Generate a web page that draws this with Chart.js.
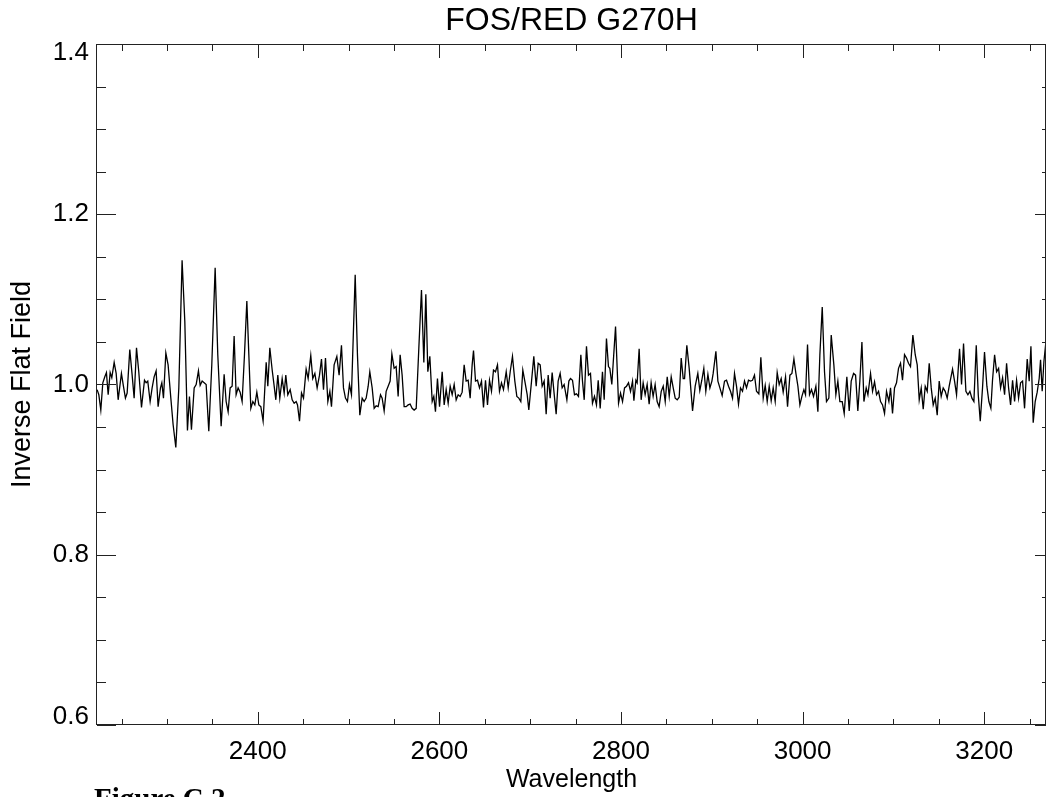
<!DOCTYPE html>
<html>
<head>
<meta charset="utf-8">
<title>FOS/RED G270H</title>
<script src="https://cdn.jsdelivr.net/npm/chart.js@4/dist/chart.umd.min.js"></script>
<style>
  html, body { margin: 0; padding: 0; background: #fff; }
  #wrap { width: 1047px; height: 797px; position: relative; }
</style>
</head>
<body>
<div id="wrap"><canvas id="flatChart"></canvas></div>
<script>
// spectrum (wavelength, inverse flat field)
const wavelength = [
  2223.1, 2225.0, 2227.2, 2229.4, 2231.6, 2233.4, 2235.3, 2237.5, 2239.3, 2241.9,
  2244.1, 2246.3, 2249.9, 2252.1, 2254.3, 2256.2, 2259.1, 2261.7, 2263.9, 2266.5,
  2269.0, 2272.0, 2275.3, 2277.1, 2278.9, 2281.5, 2283.7, 2285.9, 2288.1, 2290.3,
  2292.9, 2294.4, 2296.2, 2298.8, 2301.3, 2304.3, 2306.8, 2309.8, 2313.1, 2316.7,
  2319.7, 2322.6, 2324.8, 2327.0, 2330.0, 2332.2, 2334.7, 2336.6, 2338.8, 2341.0,
  2343.2, 2346.1, 2349.4, 2353.1, 2356.0, 2359.7, 2363.0, 2365.2, 2367.4, 2369.6,
  2371.8, 2374.0, 2376.2, 2378.4, 2380.6, 2382.8, 2385.4, 2388.0, 2390.2, 2392.4,
  2394.6, 2396.8, 2399.0, 2401.2, 2403.4, 2405.9, 2409.3, 2411.1, 2413.3, 2415.9,
  2418.1, 2419.9, 2422.1, 2424.3, 2426.9, 2429.1, 2430.9, 2433.1, 2435.7, 2437.9,
  2440.1, 2442.3, 2443.8, 2446.0, 2448.2, 2450.4, 2453.3, 2455.5, 2458.4, 2460.6,
  2462.9, 2465.4, 2468.0, 2470.2, 2472.4, 2474.6, 2477.2, 2479.4, 2481.2, 2484.1,
  2487.1, 2489.6, 2492.2, 2494.4, 2496.6, 2498.8, 2501.0, 2503.2, 2507.3, 2509.8,
  2512.4, 2515.0, 2517.2, 2519.4, 2521.6, 2523.4, 2526.0, 2528.2, 2530.4, 2532.6,
  2535.2, 2537.0, 2539.2, 2541.4, 2543.6, 2545.8, 2547.7, 2550.2, 2552.4, 2554.6,
  2556.8, 2559.0, 2561.2, 2563.4, 2565.6, 2567.8, 2570.0, 2572.2, 2574.5, 2577.4,
  2580.3, 2582.9, 2585.1, 2587.3, 2589.5, 2592.1, 2593.9, 2595.7, 2597.9, 2600.2,
  2603.1, 2605.3, 2607.5, 2609.7, 2611.9, 2614.1, 2616.3, 2618.5, 2620.7, 2622.9,
  2625.1, 2627.3, 2629.5, 2631.7, 2633.9, 2636.1, 2637.6, 2639.8, 2642.0, 2644.2,
  2646.4, 2648.6, 2650.8, 2653.0, 2655.2, 2657.4, 2659.6, 2661.8, 2664.0, 2666.2,
  2668.4, 2670.6, 2673.6, 2675.8, 2678.0, 2680.5, 2683.1, 2685.3, 2687.5, 2689.7,
  2691.9, 2694.1, 2696.7, 2698.5, 2701.5, 2704.0, 2706.6, 2708.8, 2711.0, 2713.2,
  2715.4, 2717.6, 2719.8, 2722.0, 2724.2, 2726.4, 2728.6, 2730.8, 2733.0, 2735.2,
  2737.4, 2740.4, 2742.6,
  2744.4, 2746.6, 2748.8, 2751.0, 2753.2, 2755.8, 2757.6, 2759.5, 2762.0, 2764.2,
  2766.4, 2768.6, 2770.8, 2773.0, 2774.9, 2777.1, 2779.6, 2781.5, 2784.0, 2786.2,
  2787.7, 2789.9, 2794.0, 2797.3, 2799.5, 2801.7, 2803.9, 2806.1, 2808.3, 2810.5,
  2812.7, 2814.2, 2816.4, 2817.8, 2820.0, 2822.2, 2824.4, 2826.6, 2828.8, 2831.0,
  2833.2, 2835.4, 2837.6, 2839.8, 2842.0, 2844.3, 2846.5, 2848.7, 2850.9, 2853.1,
  2855.3, 2857.5, 2859.7, 2861.9, 2864.1, 2866.3, 2868.5, 2870.0, 2872.5, 2875.1,
  2878.8, 2881.7, 2884.6, 2886.8, 2889.0, 2891.2, 2893.4, 2895.7, 2897.9, 2900.1,
  2901.5, 2904.5, 2906.7, 2908.9, 2911.4, 2914.0, 2916.2, 2918.4, 2920.6, 2922.8,
  2925.0, 2927.2, 2929.4, 2931.6, 2933.8, 2936.0, 2938.2, 2940.4, 2942.6, 2944.8,
  2947.0, 2949.2, 2951.8, 2954.0, 2956.6, 2958.8, 2961.0, 2963.2, 2965.4, 2967.6,
  2969.8, 2972.0, 2974.2, 2976.4, 2978.6, 2981.2, 2983.4, 2986.0, 2988.2, 2990.4,
  2992.6, 2994.8, 2997.0, 2999.2, 3001.4, 3003.2, 3005.4, 3007.6, 3009.8, 3012.0,
  3014.6, 3016.8, 3019.0, 3021.6, 3024.1, 3026.3, 3028.9, 3031.5, 3034.4, 3036.6,
  3038.8, 3041.0, 3043.6, 3045.8, 3048.7, 3051.3, 3053.5, 3056.1, 3058.3, 3060.8,
  3063.0, 3065.3, 3067.5, 3070.0, 3071.9, 3074.8, 3077.0, 3079.2, 3081.4, 3083.6,
  3085.8, 3088.0, 3090.2, 3092.4, 3095.0, 3096.8, 3099.0, 3101.2, 3103.4, 3105.6,
  3107.8, 3110.0, 3112.2, 3114.4, 3116.6, 3118.8, 3121.4, 3124.0, 3126.2, 3128.4,
  3130.6, 3132.8, 3135.0, 3137.2, 3139.4, 3141.6, 3143.8, 3146.0, 3148.2, 3150.4,
  3152.6, 3154.8, 3157.0, 3159.2, 3161.4, 3165.1, 3167.3, 3169.5, 3172.8, 3175.0,
  3177.2, 3179.8, 3182.0, 3184.2, 3186.4, 3188.6, 3191.2, 3193.4, 3195.6, 3198.1,
  3200.3, 3202.9, 3205.1, 3207.3, 3209.1, 3211.4, 3213.6, 3215.8, 3218.0, 3220.2,
  3222.4, 3224.6, 3226.8, 3229.0, 3231.2, 3233.4, 3235.6, 3237.8, 3240.0, 3242.2,
  3244.4, 3247.3, 3249.5, 3251.4, 3253.9, 3256.1, 3258.3, 3260.5, 3262.0, 3263.8,
  3265.7, 3267.9
];

const flatField = [
  0.994, 0.988, 0.970, 1.002, 1.009, 1.014, 0.988, 1.014, 1.008, 1.026,
  1.013, 0.982, 1.013, 0.998, 0.984, 0.990, 1.041, 1.011, 0.984, 1.043,
  1.015, 0.973, 1.005, 1.002, 1.004, 0.980, 0.996, 1.009, 1.016, 0.974,
  0.996, 1.002, 0.984, 1.037, 1.023, 0.984, 0.953, 0.926, 0.996, 1.146,
  1.074, 0.946, 0.986, 0.947, 0.996, 1.000, 1.016, 0.999, 1.004, 1.002,
  1.000, 0.945, 1.023, 1.137, 1.035, 0.951, 1.012, 0.980, 0.968, 0.996,
  0.998, 1.057, 0.988, 0.996, 0.991, 0.980, 1.035, 1.098, 1.035, 0.972,
  0.980, 0.976, 0.991, 0.976, 0.974, 0.957, 1.026, 0.998, 1.043, 1.017,
  0.998, 0.982, 1.011, 0.984, 1.007, 0.990, 1.011, 0.988, 0.994, 0.982,
  0.978, 0.980, 0.976, 0.957, 0.990, 0.984, 1.018, 1.007, 1.034, 1.007,
  1.013, 0.996, 1.011, 1.030, 0.994, 1.031, 0.980, 0.992, 0.974, 1.023,
  1.033, 1.011, 1.046, 0.996, 0.984, 0.980, 1.000, 0.988, 1.129, 1.035,
  0.964, 0.984, 0.980, 0.984, 0.998, 1.015, 0.996, 0.972, 0.975, 0.974,
  0.988, 0.984, 0.969, 0.992, 0.998, 1.004, 1.036, 1.019, 1.021, 0.986,
  1.035, 1.011, 0.974, 0.974, 0.976, 0.977, 0.972, 0.970, 0.972, 1.043,
  1.111, 1.026, 1.106, 1.015, 1.033, 0.980, 0.986, 0.968, 1.007, 0.974,
  1.015, 0.976, 0.994, 0.978, 0.998, 0.988, 1.000, 0.982, 0.988, 0.986,
  0.991, 1.023, 1.004, 1.005, 0.984, 1.023, 1.040, 1.004, 1.005, 0.996,
  1.004, 0.973, 1.005, 0.976, 1.005, 0.992, 1.017, 1.015, 1.023, 0.992,
  1.002, 0.994, 1.015, 0.996, 1.015, 1.033, 1.004, 0.986, 0.984, 0.980,
  1.017, 1.004, 0.988, 0.970, 1.004, 1.033, 0.998, 1.025, 1.023, 0.998,
  1.004, 0.965, 1.011, 0.984, 1.014, 0.989, 0.965, 1.004, 1.013, 0.996,
  1.000, 0.982, 1.004,
  1.007, 1.005, 0.988, 0.989, 0.986, 1.035, 1.004, 0.982, 1.045, 1.011,
  1.013, 0.978, 0.986, 0.976, 1.005, 0.972, 1.015, 0.982, 1.054, 1.021,
  1.019, 1.000, 1.068, 0.978, 0.990, 0.980, 0.996, 0.998, 1.002, 0.992,
  1.004, 0.981, 1.005, 1.002, 1.042, 0.982, 1.002, 0.988, 1.000, 0.977,
  1.002, 0.986, 1.000, 0.980, 0.974, 0.992, 0.998, 0.980, 1.009, 0.986,
  1.009, 0.996, 0.984, 0.982, 0.985, 1.031, 1.007, 1.007, 1.046, 1.019,
  0.969, 0.998, 1.013, 0.993, 1.005, 1.019, 0.992, 1.012, 0.996, 1.004,
  1.013, 1.039, 1.004, 0.996, 0.987, 1.004, 1.005, 0.998, 0.992, 0.984,
  1.013, 0.998, 0.977, 0.996, 0.992, 1.004, 0.996, 1.005, 1.004, 1.005,
  1.011, 0.992, 0.989, 1.032, 0.984, 0.999, 0.980, 0.998, 0.981, 0.996,
  0.980, 1.014, 1.000, 1.007, 0.991, 1.009, 0.974, 1.011, 1.013, 1.030,
  1.013, 0.998, 0.976, 0.986, 0.994, 0.988, 1.047, 0.988, 0.994, 0.986,
  0.998, 0.968, 1.035, 1.091, 1.015, 0.980, 0.984, 1.058, 1.023, 0.988,
  1.004, 0.980, 0.980, 0.966, 1.009, 0.969, 1.004, 1.013, 1.011, 0.969,
  1.004, 1.050, 0.980, 0.996, 0.988, 1.013, 0.992, 1.003, 0.988, 0.992,
  0.980, 0.976, 0.966, 0.992, 0.980, 0.996, 0.966, 0.996, 1.002, 1.019,
  1.025, 1.005, 1.035, 1.031, 1.025, 1.021, 1.058, 1.035, 1.023, 0.982,
  0.996, 0.971, 0.998, 0.992, 1.025, 0.996, 0.976, 0.984, 0.964, 1.004,
  0.986, 0.996, 0.992, 0.984, 0.998, 1.018, 1.004, 0.988, 1.042, 1.000,
  1.048, 0.992, 0.988, 0.992, 0.984, 0.980, 1.046, 0.988, 0.957, 0.996,
  1.038, 0.998, 0.980, 0.972, 1.005, 1.035, 1.015, 1.019, 0.996, 1.008,
  0.988, 1.025, 0.996, 0.976, 1.005, 0.980, 1.005, 0.984, 1.002, 1.004,
  0.972, 1.030, 1.004, 1.045, 0.955, 0.980, 0.991, 1.007, 1.029, 0.992,
  1.027, 1.050
];

const xTickLabels = [2400, 2600, 2800, 3000, 3200];
const yTickLabels = [0.6, 0.8, 1.0, 1.2, 1.4];
const xMinorStep = 50;
const yMinorStep = 0.05;

const points = wavelength.map((w, i) => ({ x: w, y: flatField[i] }));

// IDL style box: ticks pointing inwards on all four sides, edge labels kept inside
const idlFrame = {
  id: 'idlFrame',
  afterDraw(chart) {
    const { ctx, chartArea: a, scales: { x, y } } = chart;
    ctx.save();
    ctx.strokeStyle = '#222';
    ctx.lineWidth = 1;
    ctx.strokeRect(a.left - 0.5, a.top + 0.5, a.right - a.left, a.bottom - a.top - 1);

    ctx.beginPath();
    for (let v = Math.ceil(x.min / xMinorStep) * xMinorStep; v <= x.max; v += xMinorStep) {
      const px = Math.round(x.getPixelForValue(v)) + 0.5;
      const major = xTickLabels.includes(v);
      ctx.moveTo(px, a.bottom); ctx.lineTo(px, a.bottom - (major ? 13 : 6));
      ctx.moveTo(px, a.top); ctx.lineTo(px, a.top + (major ? 14 : 7));
    }
    for (let k = 0; k <= Math.round((y.max - y.min) / yMinorStep); k++) {
      const v = +(y.min + k * yMinorStep).toFixed(2);
      const py = Math.round(y.getPixelForValue(v)) + 0.5;
      const major = yTickLabels.some(t => Math.abs(t - v) < 1e-6);
      ctx.moveTo(a.left, py); ctx.lineTo(a.left + (major ? 19 : 9), py);
      ctx.moveTo(a.right, py); ctx.lineTo(a.right - (major ? 11 : 4), py);
    }
    ctx.stroke();

    ctx.fillStyle = '#000';
    ctx.font = '26px "Liberation Sans", Arial, sans-serif';
    ctx.textAlign = 'right';
    ctx.textBaseline = 'middle';
    yTickLabels.forEach(t => {
      let py = y.getPixelForValue(t);
      py = Math.min(Math.max(py, a.top + 9), a.bottom - 8);
      ctx.fillText(t.toFixed(1), a.left - 8, py);
    });

    // figure caption, cut off by the bottom of the page
    ctx.textAlign = 'left';
    ctx.textBaseline = 'alphabetic';
    ctx.font = 'bold 29px "Liberation Serif", "Times New Roman", serif';
    ctx.fillText('Figure C.2', 94, 808);
    ctx.restore();
  }
};

const ctx = document.getElementById('flatChart');
new Chart(ctx.getContext('2d'), {
  type: 'line',
  data: {
    datasets: [{
      data: points,
      borderColor: '#000',
      borderWidth: 1.3,
      pointRadius: 0,
      tension: 0,
      fill: false
    }]
  },
  options: {
    responsive: true,
    maintainAspectRatio: false,
    animation: false,
    layout: { padding: { left: 0, right: 1, top: 0, bottom: 0 } },
    plugins: {
      legend: { display: false },
      tooltip: { enabled: false },
      title: {
        display: true,
        fullSize: false,
        text: 'FOS/RED G270H',
        color: '#000',
        font: { family: '"Liberation Sans", Arial, sans-serif', size: 32, weight: 'normal', lineHeight: 1.1 },
        padding: { top: 4, bottom: 4.8 }
      }
    },
    scales: {
      x: {
        type: 'linear',
        min: 2223,
        max: 3268,
        grid: { display: false },
        border: { display: false },
        afterBuildTicks: scale => { scale.ticks = xTickLabels.map(v => ({ value: v })); },
        afterFit: scale => { scale.height = 72; },
        ticks: {
          color: '#000',
          padding: 3,
          maxRotation: 0,
          font: { family: '"Liberation Sans", Arial, sans-serif', size: 26 },
          callback: v => String(v)
        },
        title: {
          display: true,
          text: 'Wavelength',
          color: '#000',
          font: { family: '"Liberation Sans", Arial, sans-serif', size: 25 },
          padding: { top: 0, bottom: 2 }
        }
      },
      y: {
        min: 0.6,
        max: 1.4,
        grid: { display: false },
        border: { display: false },
        afterBuildTicks: scale => { scale.ticks = yTickLabels.map(v => ({ value: v })); },
        afterFit: scale => { scale.width = 97; },
        ticks: { display: false },
        title: {
          display: true,
          text: 'Inverse Flat Field',
          color: '#000',
          font: { family: '"Liberation Sans", Arial, sans-serif', size: 27 },
          padding: { top: 6, bottom: 0 }
        }
      }
    }
  },
  plugins: [idlFrame]
});
</script>
</body>
</html>
